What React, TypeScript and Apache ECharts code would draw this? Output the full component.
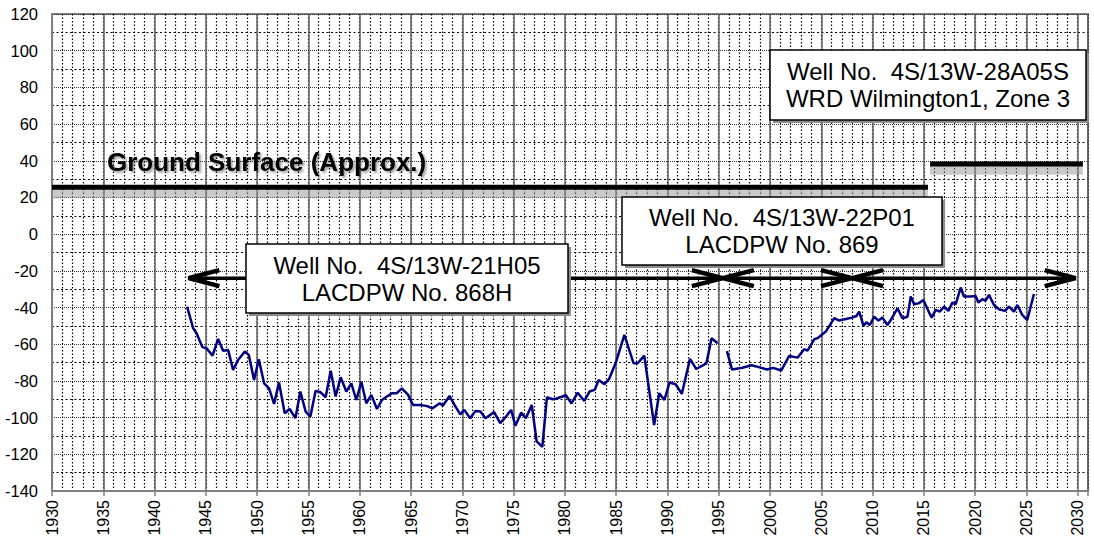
import React, { useEffect, useRef } from "react";
import * as echarts from "echarts";

// ---------- data ----------
const well1Years = [
  1943.17, 1943.76, 1944.09, 1944.67, 1945.06, 1945.65, 1946.2, 1946.68, 1947.17, 1947.65,
  1948.14, 1948.8, 1949.18, 1949.7, 1950.16, 1950.68, 1951.16, 1951.65, 1952.13, 1952.69,
  1953.17, 1953.73, 1954.21, 1954.73, 1955.19, 1955.7, 1956.19, 1956.68, 1957.17, 1957.65,
  1958.14, 1958.69, 1959.18, 1959.67, 1960.16, 1960.64, 1961.13, 1961.68, 1962.16, 1962.65,
  1963.14, 1963.62, 1964.1, 1964.7, 1965.2, 1965.8, 1966.5, 1967.1, 1967.8, 1968.1,
  1968.75, 1969.24, 1969.8, 1970.2, 1970.77, 1971.28, 1971.77, 1972.26, 1973.1, 1973.7,
  1974.27, 1974.76, 1975.18, 1975.73, 1976.2, 1976.77, 1977.25, 1977.8, 1978.25, 1978.8,
  1979.2, 1980.1, 1980.65, 1981.25, 1981.9, 1982.4, 1982.9, 1983.3, 1983.85, 1984.3,
  1985.0, 1985.8, 1986.7, 1987.1, 1987.74, 1988.7, 1989.2, 1989.7, 1990.2, 1990.8,
  1991.4, 1992.2, 1992.8, 1993.8, 1994.3, 1994.9,
];
const well1Levels = [
  -39.5, -51.3, -54, -61.6, -62.2, -66.2, -57.1, -63.5, -63.1, -74,
  -68.6, -64, -65.8, -79.5, -68.2, -81.3, -84, -92.5, -80.9, -97.6,
  -95.3, -100.3, -85.8, -96.7, -99.4, -85.4, -86.2, -88.9, -74.5, -88.5,
  -78, -85.8, -81.3, -90.4, -80.4, -92.2, -87.6, -95.3, -90.4, -88.5,
  -86.7, -86.7, -84, -87.5, -93.1, -93.1, -93.6, -94.9, -92.2, -93.6,
  -88.2, -93.1, -98.2, -95.8, -100.3, -96.4, -96.7, -100.3, -97, -103,
  -99.4, -95.8, -104.5, -97.3, -100.3, -93.1, -113, -116, -88.9, -90,
  -89.6, -87.8, -92.3, -86.4, -90.9, -85.8, -84.9, -79.5, -81.8, -79.1,
  -69.5, -54.9, -70.4, -70.4, -66.2, -104, -86.7, -90.4, -80.9, -81.8,
  -87.1, -68, -73.5, -70.4, -56.7, -59.5,
];
const well2Years = [
  1995.8, 1996.3, 1997.3, 1998.2, 1999.0, 1999.7, 2000.3, 2001.1, 2001.87, 2002.69,
  2003.33, 2003.66, 2004.31, 2004.63, 2005.44, 2006.26, 2006.74, 2007.39, 2007.98, 2008.43,
  2008.69, 2008.85, 2009.11, 2009.4, 2009.73, 2010.15, 2010.57, 2010.96, 2011.45, 2011.77,
  2012.42, 2012.91, 2013.4, 2013.72, 2014.05, 2014.53, 2014.95, 2015.5, 2015.77, 2016.15,
  2016.54, 2016.97, 2017.39, 2017.78, 2018.1, 2018.59, 2018.91, 2019.56, 2020.05, 2020.31,
  2020.7, 2021.02, 2021.35, 2021.83, 2022.32, 2022.9, 2023.3, 2023.78, 2024.11, 2024.59,
  2025.08, 2025.73,
];
const well2Levels = [
  -63.8, -73.8, -72.8, -71.5, -72.6, -73.8, -72.9, -74.3, -66.4, -67.3,
  -62.7, -63.5, -57.3, -56.7, -53.1, -45.8, -47.1, -46.2, -45.5, -44.6,
  -42.2, -45, -50, -48, -49.5, -45, -47.1, -45.5, -49.5, -46.8,
  -40.4, -45.8, -45, -34, -38.2, -37.6, -35.9, -42.6, -45.5, -41.3,
  -42.2, -39.5, -41.8, -37.3, -38.2, -29.1, -34, -34, -33.7, -37.3,
  -35.5, -36.2, -33.1, -38.6, -40.9, -41.8, -39.5, -42.2, -38.6, -44,
  -46.8, -32.6,
];
const groundYears1 = [1930, 2015.4];
const groundLevel1 = 25.5;
const groundYears2 = [2015.6, 2030.5];
const groundLevel2 = 38.3;
const arrowStarts = [1943.3, 1995.4, 2008.0];
const arrowEnds = [1995.4, 2008.0, 2029.8];
const arrowLevel = -24;
const groundText = "Ground Surface (Approx.)";
const wellBoxTexts = [
  "Well No.  4S/13W-21H05\nLACDPW No. 868H",
  "Well No.  4S/13W-22P01\nLACDPW No. 869",
  "Well No.  4S/13W-28A05S\nWRD Wilmington1, Zone 3",
];

const FONT = '"Liberation Sans", Arial, sans-serif';

function textBox(x: number, y: number, w: number, h: number, text: string) {
  return {
    type: "group",
    z: 100,
    children: [
      { type: "rect", shape: { x: x + 3, y: y + 3, width: w, height: h }, style: { fill: "#8c8c8c" }, z: 100 },
      { type: "rect", shape: { x, y, width: w, height: h }, style: { fill: "#fff", stroke: "#000", lineWidth: 1.5 }, z: 101 },
      {
        type: "text",
        z: 102,
        x: x + w / 2,
        y: y + h / 2,
        style: {
          text,
          fill: "#000",
          font: `24px ${FONT}`,
          lineHeight: 27,
          align: "center",
          verticalAlign: "middle",
        },
      },
    ],
  };
}

export default function App() {
  const ref = useRef<HTMLDivElement>(null);
  useEffect(() => {
    if (!ref.current) return;
    const chart = echarts.init(ref.current, undefined, { renderer: "svg" });
    const option: any = {
      animation: false,
      backgroundColor: "#fff",
      grid: {
        left: 52,
        right: 6,
        top: 14,
        bottom: 53,
        show: true,
        borderColor: "#808080",
        borderWidth: 2,
        backgroundColor: "#fff",
      },
      xAxis: [
        {
          type: "value",
          min: 1930,
          max: 2031,
          interval: 1,
          axisLabel: { show: false },
          axisTick: { show: false },
          axisLine: { show: false },
          splitLine: { show: true, lineStyle: { color: "#000", width: 1.2, type: [1.5, 2] } },
        },
        {
          type: "value",
          min: 1930,
          max: 2031,
          interval: 5,
          position: "bottom",
          axisLabel: {
            rotate: 90,
            fontSize: 16,
            color: "#000",
            fontFamily: FONT,
            margin: 9,
            formatter: (v: number) => (v % 5 === 0 ? String(v) : ""),
          },
          axisTick: { show: true, length: 5, lineStyle: { color: "#808080", width: 1.5 } },
          axisLine: { show: true, lineStyle: { color: "#808080", width: 2 } },
          splitLine: { show: true, lineStyle: { color: "#606060", width: 1.5, type: "solid" } },
        },
      ],
      yAxis: {
        type: "value",
        min: -140,
        max: 120,
        interval: 20,
        axisLabel: { fontSize: 16.5, color: "#000", fontFamily: FONT, margin: 14 },
        axisTick: { show: false },
        axisLine: { show: true, lineStyle: { color: "#808080", width: 2 } },
        splitLine: { show: true, lineStyle: { color: "#333", width: 1.2, type: [1, 1] } },
        minorTick: { show: false, splitNumber: 2 },
        minorSplitLine: { show: true, lineStyle: { color: "#000", width: 1.2, type: [2, 2.5] } },
      },
      series: [
        {
          type: "line",
          xAxisIndex: 0,
          data: groundYears1.map((x) => [x, groundLevel1 - 3.5]),
          symbol: "none",
          lineStyle: { color: "rgba(150,150,150,0.5)", width: 9 },
          z: 3,
          silent: true,
        },
        {
          type: "line",
          xAxisIndex: 0,
          data: groundYears2.map((x) => [x, groundLevel2 - 3.5]),
          symbol: "none",
          lineStyle: { color: "rgba(150,150,150,0.5)", width: 9 },
          z: 3,
          silent: true,
        },
        {
          type: "line",
          xAxisIndex: 0,
          data: groundYears1.map((x) => [x, groundLevel1]),
          symbol: "none",
          lineStyle: { color: "#000", width: 5 },
          z: 4,
        },
        {
          type: "line",
          xAxisIndex: 0,
          data: groundYears2.map((x) => [x, groundLevel2]),
          symbol: "none",
          lineStyle: { color: "#000", width: 5 },
          z: 4,
        },
        {
          type: "custom",
          xAxisIndex: 0,
          z: 5,
          encode: { x: [0, 1], y: 2 },
          data: arrowStarts.map((s, i) => [s, arrowEnds[i], arrowLevel]),
          renderItem: (params: any, api: any) => {
            const p1 = api.coord([api.value(0), api.value(2)]);
            const p2 = api.coord([api.value(1), api.value(2)]);
            const L = 31;
            const H = 8;
            const st = { stroke: "#000", lineWidth: 4.5, fill: "none" };
            return {
              type: "group",
              children: [
                { type: "line", shape: { x1: p1[0] + 2, y1: p1[1], x2: p2[0] - 2, y2: p2[1] }, style: { stroke: "#000", lineWidth: 3.5 } },
                { type: "polyline", shape: { points: [[p1[0] + L, p1[1] - H], [p1[0], p1[1]], [p1[0] + L, p1[1] + H]] }, style: st },
                { type: "polyline", shape: { points: [[p2[0] - L, p2[1] - H], [p2[0], p2[1]], [p2[0] - L, p2[1] + H]] }, style: st },
              ],
            };
          },
        },
        {
          type: "line",
          xAxisIndex: 0,
          data: well1Years.map((x, i) => [x, well1Levels[i]]),
          symbol: "none",
          lineStyle: { color: "#000080", width: 2.5 },
          z: 6,
        },
        {
          type: "line",
          xAxisIndex: 0,
          data: well2Years.map((x, i) => [x, well2Levels[i]]),
          symbol: "none",
          lineStyle: { color: "#000080", width: 2.5 },
          z: 6,
        },
      ],
      graphic: [
        {
          type: "text",
          x: 107,
          y: 162,
          z: 90,
          style: {
            text: groundText,
            fill: "#000",
            font: `bold 26px ${FONT}`,
            verticalAlign: "middle",
            textShadowColor: "rgba(0,0,0,0.35)",
            textShadowBlur: 2,
            textShadowOffsetX: 2,
            textShadowOffsetY: 2,
          },
        },
        textBox(246, 244, 322, 69, wellBoxTexts[0]),
        textBox(622, 197, 320, 68, wellBoxTexts[1]),
        textBox(770, 50, 316, 70, wellBoxTexts[2]),
      ],
    };
    chart.setOption(option);
    return () => chart.dispose();
  }, []);
  return (
    <div
      ref={ref}
      style={{ position: "fixed", left: 0, top: 0, width: 1094, height: 544 }}
    />
  );
}
